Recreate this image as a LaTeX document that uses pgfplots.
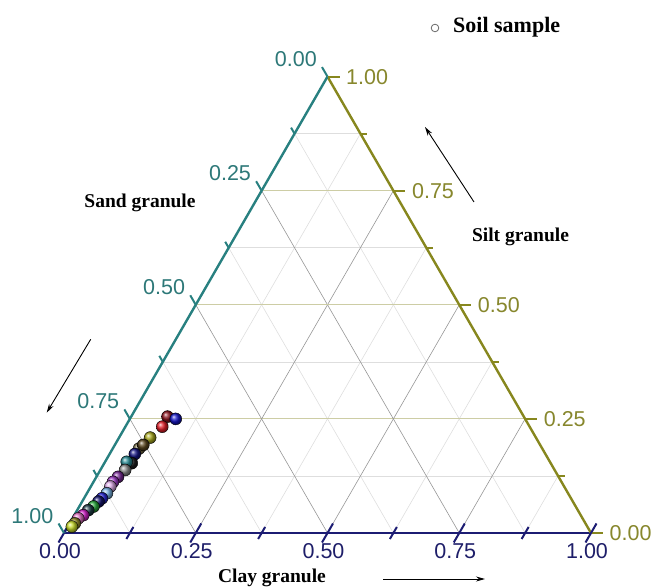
\documentclass[border=0pt]{standalone}
\usepackage{pgfplots}
\pgfplotsset{compat=1.18}
\usepackage{fontspec}
\setmainfont{Liberation Serif}
\newfontfamily\arial{Liberation Sans}
\usetikzlibrary{arrows.meta}
\definecolor{axteal}{RGB}{40,128,128}
\definecolor{axolive}{RGB}{135,135,30}
\definecolor{axnavy}{RGB}{28,28,115}
\definecolor{lbteal}{RGB}{45,120,120}
\definecolor{lbolive}{RGB}{135,135,45}
\definecolor{lbnavy}{RGB}{30,30,105}
\definecolor{gmajor}{RGB}{150,150,150}
\definecolor{gsilt}{RGB}{205,205,165}
\definecolor{gminor}{RGB}{222,222,222}
\definecolor{c1}{RGB}{140,20,30}
\definecolor{c2}{RGB}{20,20,200}
\definecolor{c3}{RGB}{230,30,40}
\definecolor{c4}{RGB}{170,170,30}
\definecolor{c5}{RGB}{90,70,30}
\definecolor{c6}{RGB}{120,110,70}
\definecolor{c7}{RGB}{20,20,130}
\definecolor{c8}{RGB}{40,140,150}
\definecolor{c9}{RGB}{30,30,30}
\definecolor{c10}{RGB}{140,140,140}
\definecolor{c11}{RGB}{120,40,150}
\definecolor{c12}{RGB}{160,60,200}
\definecolor{c13}{RGB}{220,170,230}
\definecolor{c14}{RGB}{120,180,230}
\definecolor{c15}{RGB}{40,40,220}
\definecolor{c16}{RGB}{20,20,110}
\definecolor{c17}{RGB}{40,170,60}
\definecolor{c18}{RGB}{30,60,70}
\definecolor{c19}{RGB}{210,30,200}
\definecolor{c20}{RGB}{230,120,200}
\definecolor{c21}{RGB}{150,140,40}
\definecolor{c22}{RGB}{200,220,40}
\newcommand{\soil}[3]{\addplot[only marks, mark=ball, mark size=6bp, mark options={ball color=#3}] table[row sep=\\, x expr={\thisrow{c}+0.5*\thisrow{s}}, y expr={0.8660254*\thisrow{s}}] {c s\\ #1 #2\\};}
\newcommand{\tl}{\arial\fontsize{21.5bp}{24bp}\selectfont}
\newcommand{\ttl}{\bfseries\fontsize{19.5bp}{22bp}\selectfont}
\begin{document}
\begin{tikzpicture}
\useasboundingbox (-64bp,-54bp) rectangle (590bp,533bp);
\begin{axis}[
  at={(0,0)}, anchor=origin,
  x=527bp, y=527bp,
  xmin=-0.12, xmax=1.12, ymin=-0.1, ymax=1.01,
  hide axis, clip=false,
]
% minor grid
\pgfplotsinvokeforeach{0.125,0.375,0.625,0.875}{
  \draw[gminor, line width=0.6bp] (axis cs:{#1/2},{0.8660254*#1}) -- (axis cs:{1-#1/2},{0.8660254*#1});
  \draw[gminor, line width=0.6bp] (axis cs:#1,0) -- (axis cs:{#1+(1-#1)/2},{0.8660254*(1-#1)});
  \draw[gminor, line width=0.6bp] (axis cs:{(1-#1)/2},{0.8660254*(1-#1)}) -- (axis cs:{1-#1},0);
}
% major grid
\pgfplotsinvokeforeach{0.25,0.5,0.75}{
  \draw[gsilt, line width=0.8bp] (axis cs:{#1/2},{0.8660254*#1}) -- (axis cs:{1-#1/2},{0.8660254*#1});
  \draw[gmajor, line width=0.6bp] (axis cs:#1,0) -- (axis cs:{#1+(1-#1)/2},{0.8660254*(1-#1)});
  \draw[gmajor, line width=0.6bp] (axis cs:{(1-#1)/2},{0.8660254*(1-#1)}) -- (axis cs:{1-#1},0);
}
% axis lines
\draw[axnavy, line width=2.4bp] (axis cs:0,0) -- (axis cs:1,0);
\draw[axolive, line width=2.4bp] (axis cs:1,0) -- (axis cs:0.5,0.8660254);
\draw[axteal, line width=2.4bp] (axis cs:0,0) -- (axis cs:0.5,0.8660254);
% ticks
\pgfplotsinvokeforeach{0,0.25,0.5,0.75,1}{
  \draw[axteal, line width=2bp] (axis cs:{(1-#1)/2},{0.8660254*(1-#1)}) -- ++(-5.5bp,9.5bp);
  \draw[axolive, line width=2bp] (axis cs:{1-#1/2},{0.8660254*#1}) -- ++(12bp,0bp);
  \draw[axnavy, line width=2bp] (axis cs:#1,0) ++(-5.5bp,-9.5bp) -- ++(11bp,19bp);
}
\pgfplotsinvokeforeach{0.125,0.375,0.625,0.875}{
  \draw[axteal, line width=2bp] (axis cs:{(1-#1)/2},{0.8660254*(1-#1)}) -- ++(-3.5bp,6bp);
  \draw[axolive, line width=2bp] (axis cs:{1-#1/2},{0.8660254*#1}) -- ++(7bp,0bp);
  \draw[axnavy, line width=2bp] (axis cs:#1,0) ++(-3.5bp,-6bp) -- ++(7bp,12bp);
}
% tick labels: sand (left)
\node[lbteal, anchor=south east, inner sep=0pt, xshift=-10.5bp, yshift=9.5bp] at (axis cs:0.5,0.8660254) {\tl 0.00};
\node[lbteal, anchor=south east, inner sep=0pt, xshift=-10.5bp, yshift=9.5bp] at (axis cs:0.375,0.6495191) {\tl 0.25};
\node[lbteal, anchor=south east, inner sep=0pt, xshift=-10.5bp, yshift=9.5bp] at (axis cs:0.25,0.4330127) {\tl 0.50};
\node[lbteal, anchor=south east, inner sep=0pt, xshift=-10.5bp, yshift=9.5bp] at (axis cs:0.125,0.2165064) {\tl 0.75};
\node[lbteal, anchor=south east, inner sep=0pt, xshift=-10.5bp, yshift=9.5bp] at (axis cs:0,0) {\tl 1.00};
% silt (right)
\node[lbolive, anchor=west, inner sep=0pt, xshift=18.5bp] at (axis cs:1,0) {\tl 0.00};
\node[lbolive, anchor=west, inner sep=0pt, xshift=18.5bp] at (axis cs:0.875,0.2165064) {\tl 0.25};
\node[lbolive, anchor=west, inner sep=0pt, xshift=18.5bp] at (axis cs:0.75,0.4330127) {\tl 0.50};
\node[lbolive, anchor=west, inner sep=0pt, xshift=18.5bp] at (axis cs:0.625,0.6495191) {\tl 0.75};
\node[lbolive, anchor=west, inner sep=0pt, xshift=18.5bp] at (axis cs:0.5,0.8660254) {\tl 1.00};
% clay (bottom)
\node[lbnavy, anchor=north, inner sep=0pt, xshift=-4bp, yshift=-10.5bp] at (axis cs:0,0) {\tl 0.00};
\node[lbnavy, anchor=north, inner sep=0pt, xshift=-4bp, yshift=-10.5bp] at (axis cs:0.25,0) {\tl 0.25};
\node[lbnavy, anchor=north, inner sep=0pt, xshift=-4bp, yshift=-10.5bp] at (axis cs:0.5,0) {\tl 0.50};
\node[lbnavy, anchor=north, inner sep=0pt, xshift=-4bp, yshift=-10.5bp] at (axis cs:0.75,0) {\tl 0.75};
\node[lbnavy, anchor=north, inner sep=0pt, xshift=-4bp, yshift=-10.5bp] at (axis cs:1,0) {\tl 1.00};
% data: clay, silt (sand = 1 - clay - silt)
\soil{0.069}{0.255}{c1}
\soil{0.087}{0.250}{c2}
\soil{0.070}{0.233}{c3}
\soil{0.059}{0.209}{c4}
\soil{0.050}{0.185}{c6}
\soil{0.054}{0.193}{c5}
\soil{0.048}{0.173}{c7}
\soil{0.052}{0.153}{c9}
\soil{0.041}{0.156}{c8}
\soil{0.047}{0.138}{c10}
\soil{0.041}{0.123}{c11}
\soil{0.037}{0.112}{c12}
\soil{0.037}{0.102}{c13}
\soil{0.038}{0.087}{c14}
\soil{0.034}{0.076}{c15}
\soil{0.031}{0.069}{c16}
\soil{0.027}{0.058}{c17}
\soil{0.021}{0.050}{c18}
\soil{0.017}{0.039}{c19}
\soil{0.011}{0.032}{c20}
\soil{0.010}{0.021}{c21}
\soil{0.008}{0.014}{c22}
\end{axis}
% titles and arrows
\draw[gray!80!black, line width=0.8bp] (371bp,505bp) circle (3.8bp);
\node[anchor=west, inner sep=0pt] at (389bp,506bp) {\bfseries\fontsize{22bp}{24bp}\selectfont Soil sample};
\node[inner sep=0pt] at (76bp,330bp) {\ttl Sand granule};
\node[inner sep=0pt] at (456.5bp,296bp) {\ttl Silt granule};
\node[anchor=base, inner sep=0pt] at (208bp,-49.5bp) {\ttl Clay granule};
\draw[-{Stealth[length=9bp,width=5bp]}, line width=0.9bp] (26.7bp,193.7bp) -- (-17.3bp,120.3bp);
\draw[-{Stealth[length=9bp,width=5bp]}, line width=0.9bp] (410bp,331bp) -- (361bp,406bp);
\draw[-{Stealth[length=9bp,width=5bp]}, line width=0.9bp] (319bp,-46bp) -- (421bp,-46bp);
\end{tikzpicture}
\end{document}
